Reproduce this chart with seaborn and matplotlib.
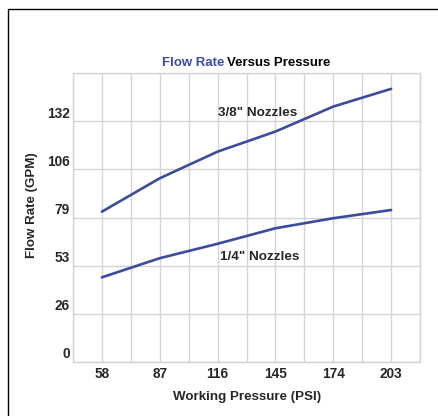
""" Flow rate versus working pressure chart for two nozzle sizes. """
import pandas as pd
import matplotlib.pyplot as plt
import matplotlib.transforms as mtransforms
from matplotlib.patches import Rectangle
import seaborn as sns

# Data
pressure_psi = [58, 87, 116, 145, 174, 203]
flow_38 = [82.4, 100.7, 115.3, 126.3, 140.0, 149.7]
flow_14 = [46.4, 56.9, 64.8, 73.3, 78.8, 83.3]
y_ticks = [0, 26.4, 52.8, 79.2, 105.6, 132, 158.4]
y_labels = ["0", "26", "53", "79", "106", "132", ""]

BLUE = "#3b4c9e"
GRID = "#d4d4d4"

df = pd.DataFrame({
    "pressure": pressure_psi * 2,
    "flow": flow_38 + flow_14,
    "nozzle": ['3/8" Nozzles'] * 6 + ['1/4" Nozzles'] * 6,
})

sns.set_style("white")
plt.rcParams["font.family"] = ["Liberation Sans", "DejaVu Sans"]

fig = plt.figure(figsize=(4.38, 4.16), dpi=100)
ax = fig.add_axes([73 / 438, 54 / 416, 347 / 438, 289 / 416])

sns.lineplot(
    data=df, x="pressure", y="flow", hue="nozzle",
    palette=[BLUE, BLUE], linewidth=1.9, legend=False, ax=ax
)

# Axes ranges and grid
ax.set_xlim(43.5, 217.5)
ax.set_ylim(0, 158.4)
ax.set_xticks(pressure_psi)
ax.set_xticks([43.5 + 29 * i for i in range(7)], minor=True)
ax.set_yticks(y_ticks)
ax.set_yticklabels(y_labels)
ax.grid(True, which="both", color=GRID, linewidth=1.0)
for spine in ax.spines.values():
    spine.set_color(GRID)
    spine.set_linewidth(1.0)
ax.tick_params(axis="both", which="both", length=0)
ax.tick_params(axis="x", pad=3.5, labelsize=9.8)
ax.tick_params(axis="y", pad=2.5, labelsize=9.8)
for lbl in ax.get_xticklabels() + ax.get_yticklabels():
    lbl.set_fontweight("bold")
# y labels sit a little above their gridlines
shift = mtransforms.ScaledTranslation(0, 6.5 / 72, fig.dpi_scale_trans)
for lbl in ax.get_yticklabels():
    lbl.set_transform(lbl.get_transform() + shift)
ax.set_xlabel("")
ax.set_ylabel("")

# Line labels
ax.text(136.0, 136.5, '3/8" Nozzles', ha="center", va="center",
        fontsize=9.7, fontweight="bold")
ax.text(137.0, 57.6, '1/4" Nozzles', ha="center", va="center",
        fontsize=9.7, fontweight="bold")

# Title in two colours
fig.text(224 / 438, 1 - 63 / 416, "Flow Rate", ha="right", va="center",
         fontsize=9.5, fontweight="bold", color=BLUE)
fig.text(227 / 438, 1 - 63 / 416, "Versus Pressure", ha="left", va="center",
         fontsize=9.5, fontweight="bold", color="black")

# Axis titles
fig.text(247 / 438, 1 - 397 / 416, "Working Pressure (PSI)", ha="center",
         va="center", fontsize=9.6, fontweight="bold")
fig.text(32 / 438, 1 - 205 / 416, "Flow Rate (GPM)", ha="center",
         va="center", rotation=90, fontsize=9.6, fontweight="bold")

# Outer frame
fig.patches.append(Rectangle(
    (8 / 438, -0.1), 1.1, 1.1 - 9 / 416, transform=fig.transFigure,
    fill=False, edgecolor="black", linewidth=1.0
))

fig.savefig("out.png", dpi=100)
plt.close(fig)
